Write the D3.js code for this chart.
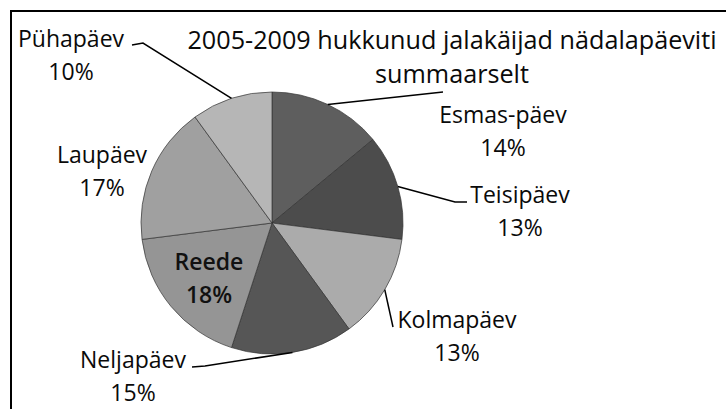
<!DOCTYPE html>
<html><head><meta charset="utf-8">
<script src="https://cdn.jsdelivr.net/npm/d3@7"></script>
<style>html,body{margin:0;padding:0;background:#fff;overflow:hidden}</style>
</head><body>
<svg id="c" width="726" height="409"></svg>
<script>
const titleLines = ["2005-2009 hukkunud jalakäijad nädalapäeviti", "summaarselt"];
const categories = ["Esmas-päev","Teisipäev","Kolmapäev","Neljapäev","Reede","Laupäev","Pühapäev"];
const values = [14,13,13,15,18,17,10];
const colors = ["#5e5e5e","#4c4c4c","#ababab","#565656","#959595","#a0a0a0","#b6b6b6"];
// label layout: centre x, first baseline, leader elbow points (from label to pie)
const labelX = [503,520,457,133,209,102,71];
const labelY = [123,203,328,368,270,163,47];
const leaders = [
  [[443,92]],
  [[467,202],[455,202]],
  [[393,327]],
  [[192,367],[205,366]],
  null,
  null,
  [[132,45],[143,43]]
];

const svg = d3.select("#c");
const font = "'Open Sans', Lato, sans-serif";
svg.append("rect").attr("width",726).attr("height",409).attr("fill","#fff");
// frame
svg.append("path").attr("d","M11,409 L11,11 L726,11").attr("fill","none").attr("stroke","#000").attr("stroke-width",2);

const cx = 272, cy = 223, R = 131;
const g = svg.append("g").attr("transform",`translate(${cx},${cy})`);
const pie = d3.pie().sort(null).value(d=>d)(values);
const arc = d3.arc().innerRadius(0).outerRadius(R);
g.selectAll("path.s").data(pie).join("path").attr("class","s")
  .attr("d",arc).attr("fill",(d,i)=>colors[i]).attr("stroke","#333").attr("stroke-width",0.7);

// leader lines
pie.forEach((d,i)=>{
  if(!leaders[i]) return;
  const a = (d.startAngle+d.endAngle)/2;
  const ex = cx + R*Math.sin(a), ey = cy - R*Math.cos(a);
  const pts = leaders[i].concat([[ex,ey]]);
  svg.append("path").attr("d", d3.line()(pts)).attr("fill","none").attr("stroke","#000").attr("stroke-width",1.5);
});

// labels
const total = d3.sum(values);
categories.forEach((c,i)=>{
  const t = svg.append("text").attr("text-anchor","middle").attr("font-family",font)
    .attr("font-size",23).attr("fill","#0a0a0a");
  if(i===4) t.attr("font-weight",600).attr("fill","#111");
  t.append("tspan").attr("x",labelX[i]).attr("y",labelY[i]).text(c);
  t.append("tspan").attr("x",labelX[i]).attr("y",labelY[i]+33).text(Math.round(values[i]/total*100)+"%");
});

// title
const tt = svg.append("text").attr("text-anchor","middle").attr("font-family",font).attr("font-size",25.2).attr("fill","#0a0a0a");
titleLines.forEach((l,k)=>tt.append("tspan").attr("x",452).attr("y",49+k*34).text(l));
</script>
</body></html>
